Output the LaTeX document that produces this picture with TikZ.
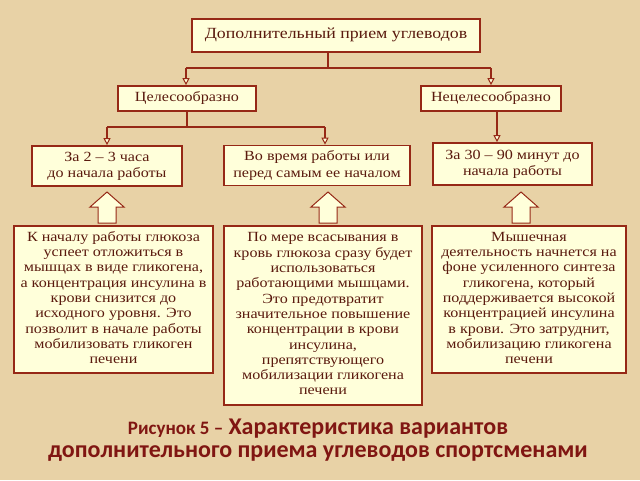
\documentclass[tikz,border=0pt]{standalone}
\usepackage{fontspec}
\usepackage{graphicx}
\setmainfont{Liberation Serif}
\newfontfamily\capfont{Carlito}
\usetikzlibrary{arrows.meta}
\definecolor{bg}{HTML}{E8D2A6}
\definecolor{boxfill}{HTML}{FFFFDA}
\definecolor{bord}{HTML}{962816}
\definecolor{txt}{HTML}{5A1A0E}
\definecolor{captxt}{HTML}{801612}
\newcommand{\sx}[1]{\scalebox{1.15}[1]{\begin{tabular}{@{}c@{}}#1\end{tabular}}}
\tikzset{
  box/.style={draw=bord, fill=boxfill, line width=1.7pt, text=txt, align=center,
    font=\fontsize{14}{15.3}\selectfont, inner sep=1pt},
  topbox/.style={box, anchor=north},
  conn/.style={draw=bord, line width=1.7pt},
  arr/.style={conn, -{Triangle[width=7pt,length=7pt,fill=boxfill,line width=1pt]}},
  hollow/.style={draw=bord, fill=boxfill, line width=1pt, line join=miter},
}
\begin{document}
\begin{tikzpicture}[x=1pt,y=-1pt]
\fill[bg] (0,0) rectangle (640,480);
\useasboundingbox (0,0) rectangle (640,480);

\node[box, minimum width=288pt, minimum height=33pt, font=\fontsize{15.5}{17}\selectfont] (top) at (336,35.5) {\sx{Дополнительный прием углеводов}};
\node[box, minimum width=138pt, minimum height=25pt] (c1) at (187,98.5) {\sx{Целесообразно}};
\node[box, minimum width=140pt, minimum height=25pt] (c2) at (491,98.5) {\sx{Нецелесообразно}};

\node[box, minimum width=150pt, minimum height=40pt, font=\fontsize{14}{16.5}\selectfont] (b1) at (107,166) {\sx{За 2 -- 3 часа\\до начала работы}};
\node[box, minimum width=186pt, minimum height=40pt, font=\fontsize{14}{16.5}\selectfont] (b2) at (317,165.5) {\sx{Во время работы или\\перед самым ее началом}};
\node[box, minimum width=159pt, minimum height=42pt, font=\fontsize{14}{16.5}\selectfont] (b3) at (512.5,164) {\raisebox{2pt}{\sx{За 30 -- 90 минут до\\начала работы}}};

\node[topbox, minimum width=199pt, minimum height=147pt] (d1) at (113.5,225) {\sx{К началу работы глюкоза\\успеет отложиться в\\мышцах в виде гликогена,\\а концентрация инсулина в\\крови снизится до\\исходного уровня. Это\\позволит в начале работы\\мобилизовать гликоген\\печени}};
\node[topbox, minimum width=198pt, minimum height=179pt] (d2) at (323,225) {\sx{По мере всасывания в\\кровь глюкоза сразу будет\\использоваться\\работающими мышцами.\\Это предотвратит\\значительное повышение\\концентрации в крови\\инсулина,\\препятствующего\\мобилизации гликогена\\печени}};
\node[topbox, minimum width=194pt, minimum height=147pt] (d3) at (529,225) {\sx{Мышечная\\деятельность начнется на\\фоне усиленного синтеза\\гликогена, который\\поддерживается высокой\\концентрацией инсулина\\в крови. Это затруднит,\\мобилизацию гликогена\\печени}};

% connectors
\coordinate (j1) at (328,68);
\coordinate (l1) at (186,68);
\coordinate (r1) at (491,68);
\draw[conn] (top.south -| j1) -- (j1);
\draw[conn] (l1) -- (r1);
\draw[arr] (l1) -- (c1.north -| l1);
\draw[arr] (r1) -- (c2.north -| r1);

\coordinate (j2) at (187,127);
\coordinate (l2) at (107,127);
\coordinate (r2) at (325,127);
\draw[conn] (c1.south -| j2) -- (j2);
\draw[conn] (l2) -- (r2);
\draw[arr] (l2) -- (b1.north -| l2);
\draw[arr] (r2) -- (b2.north -| r2);

\coordinate (j3) at (497,111);
\draw[arr] (c2.south -| j3) -- (b3.north -| j3);

% hollow up arrows
\foreach \cx in {107, 328, 521}{
  \draw[hollow] (\cx-9,223) -- (\cx-9,207) -- (\cx-17,207) -- (\cx,192) -- (\cx+17,207) -- (\cx+9,207) -- (\cx+9,223) -- cycle;
}

\node[text=captxt, align=center, font=\capfont\bfseries\fontsize{24}{23}\selectfont] (cap) at (318,440)
  {{\fontsize{19}{23}\selectfont Рисунок 5 –} Характеристика вариантов\\дополнительного приема углеводов спортсменами};
\end{tikzpicture}
\end{document}
